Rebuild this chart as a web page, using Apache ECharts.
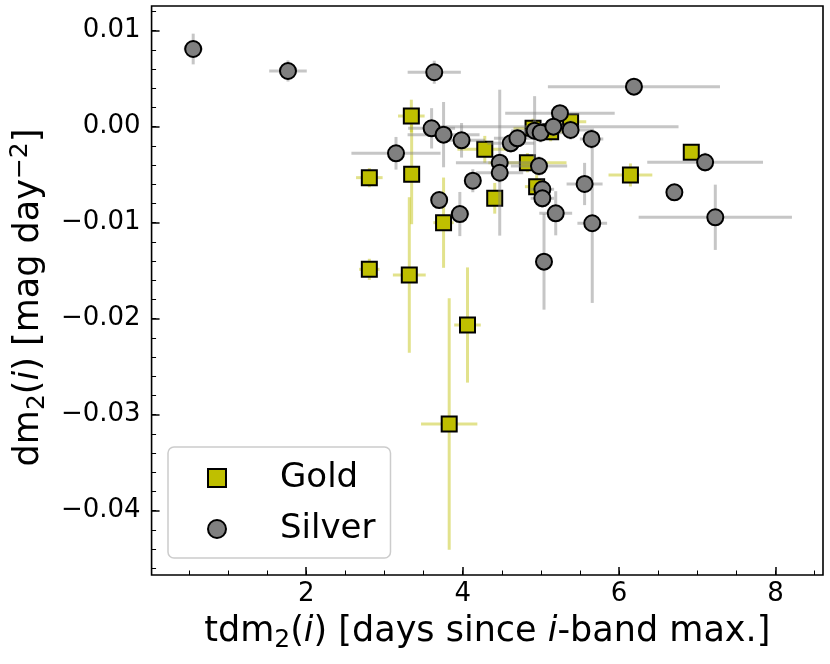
<!DOCTYPE html>
<html><head><meta charset="utf-8">
<script src="https://cdn.jsdelivr.net/npm/echarts@6/dist/echarts.min.js"></script>
<style>html,body{margin:0;padding:0;background:#fff}#c{width:830px;height:664px}</style>
</head><body><div id="c"></div>
<script>
// ---- data ----
const goldX    = [2.807, 2.807, 3.344, 3.348, 3.318, 3.756, 4.062, 3.828, 4.283, 4.410, 4.828, 4.900, 4.946, 5.125, 5.380, 6.145, 6.923];
const goldY    = [-0.00531, -0.01486, 0.00111, -0.00496, -0.01545, -0.0100, -0.02066, -0.03097, -0.00236, -0.00746, -0.00375, -0.00017, -0.00625, -0.00052, 0.00052, -0.00503, -0.00267];
const goldXErr = [0.17, 0.13, 0.17, 0.08, 0.21, 0.13, 0.17, 0.36, 0.35, 0.10, 0.50, 0.25, 0.15, 0.20, 0.20, 0.28, 0.10];
const goldYErr = [0.0010, 0.0011, 0.0017, 0.0052, 0.0081, 0.0047, 0.0060, 0.0131, 0.0014, 0.0016, 0.0010, 0.0010, 0.0012, 0.0010, 0.0008, 0.0012, 0.0008];

const silverX    = [0.555, 1.767, 3.637, 6.190, 5.244, 3.148, 3.603, 3.756, 3.986, 4.130, 3.700, 3.964, 4.474, 4.474, 4.615, 4.700, 4.920, 4.997, 5.160, 5.380, 5.648, 4.976, 5.019, 5.019, 5.190, 5.559, 5.657, 5.040, 7.100, 6.707, 7.230];
const silverY    = [0.00809, 0.0058, 0.00567, 0.00417, 0.0014, -0.00277, -0.00017, -0.00083, -0.00142, -0.00563, -0.00764, -0.0091, -0.00375, -0.0048, -0.00173, -0.00121, -0.00042, -0.00063, 0.0000, -0.00034, -0.00128, -0.0041, -0.00652, -0.00746, -0.00902, -0.00597, -0.01006, -0.01406, -0.00371, -0.00684, -0.00944];
const silverXErr = [0.12, 0.24, 0.34, 1.10, 0.70, 0.57, 0.30, 0.46, 0.30, 0.10, 0.10, 0.12, 0.56, 0.30, 0.30, 0.30, 0.30, 0.30, 1.60, 0.30, 0.15, 0.36, 0.15, 0.15, 0.21, 0.23, 0.19, 0.10, 0.74, 0.10, 0.98];
const silverYErr = [0.0016, 0.0011, 0.0012, 0.0005, 0.0008, 0.0017, 0.0021, 0.0034, 0.0018, 0.0012, 0.0008, 0.0023, 0.0076, 0.0010, 0.0010, 0.0010, 0.0036, 0.0010, 0.0010, 0.0010, 0.0010, 0.0010, 0.0010, 0.0010, 0.0023, 0.0022, 0.0083, 0.0050, 0.0010, 0.0008, 0.0034];

const xMajorTicks = [2, 4, 6, 8];
const xMinorTicks = [0.5, 1, 1.5, 2, 2.5, 3, 3.5, 4, 4.5, 5, 5.5, 6, 6.5, 7, 7.5, 8, 8.5];
const yMajorTicks = [-0.04, -0.03, -0.02, -0.01, 0, 0.01];
const yMinorTicks = [-0.046, -0.044, -0.042, -0.04, -0.038, -0.036, -0.034, -0.032, -0.03, -0.028, -0.026, -0.024, -0.022, -0.02, -0.018, -0.016, -0.014, -0.012, -0.01, -0.008, -0.006, -0.004, -0.002, 0, 0.002, 0.004, 0.006, 0.008, 0.01, 0.012];

const X_MIN = 0.023, X_MAX = 8.607;
const Y_MIN = -0.0467, Y_MAX = 0.01257;

// ---- build ----
const FONT = 'DejaVu Sans';
const zip = (a, b, c, d) => a.map((v, i) => [v, b[i], c[i], d[i]]);
const goldData = zip(goldX, goldY, goldXErr, goldYErr);
const silverData = zip(silverX, silverY, silverXErr, silverYErr);

function errRender(color) {
  return function (params, api) {
    const x = api.value(0), y = api.value(1), ex = api.value(2), ey = api.value(3);
    const a = api.coord([x - ex, y]), b = api.coord([x + ex, y]);
    const c = api.coord([x, y - ey]), d = api.coord([x, y + ey]);
    const style = { stroke: color, lineWidth: 3, fill: null };
    return { type: 'group', children: [
      { type: 'line', shape: { x1: a[0], y1: a[1], x2: b[0], y2: b[1] }, style: style },
      { type: 'line', shape: { x1: c[0], y1: c[1], x2: d[0], y2: d[1] }, style: style }
    ]};
  };
}

const richTitle = {
  n: { fontSize: 35, lineHeight: 42, fontFamily: FONT, color: '#000' },
  i: { fontSize: 35, lineHeight: 42, fontFamily: FONT, fontStyle: 'italic', color: '#000' },
  s: { fontSize: 25, lineHeight: 25, fontFamily: FONT, verticalAlign: 'bottom', color: '#000' },
  p: { fontSize: 25, lineHeight: 25, fontFamily: FONT, verticalAlign: 'top', color: '#000' }
};

const fmtY = v => {
  const s = Math.abs(v).toFixed(2);
  return (v < -1e-9 ? '\u2212' : '') + s;
};

const noLine = { show: false, onZero: false };

const chart = echarts.init(document.getElementById('c'), null, { renderer: 'canvas' });
chart.setOption({
  animation: false,
  backgroundColor: '#fff',
  grid: { left: 150, right: 7, top: 6, bottom: 89, show: true, borderColor: '#000', borderWidth: 1.6, backgroundColor: 'transparent' },
  xAxis: [
    { type: 'value', min: X_MIN, max: X_MAX, position: 'bottom',
      axisLine: noLine, splitLine: { show: false },
      axisTick: { show: true, inside: true, length: 8, lineStyle: { color: '#000', width: 1.5 }, customValues: xMajorTicks },
      axisLabel: { show: true, customValues: xMajorTicks, fontSize: 26, fontFamily: FONT, color: '#000', margin: 6, formatter: v => String(Math.round(v)) },
      name: '{n|tdm}{s|2}{n|(}{i|i}{n|) [days since }{i|i}{n|-band max.]}',
      nameLocation: 'middle', nameGap: 36,
      nameTextStyle: { fontSize: 35, fontFamily: FONT, color: '#000', rich: richTitle }
    },
    { type: 'value', min: X_MIN, max: X_MAX, position: 'bottom',
      axisLine: noLine, splitLine: { show: false },
      axisTick: { show: true, inside: true, length: 4.5, lineStyle: { color: '#000', width: 1 }, customValues: xMinorTicks },
      axisLabel: { show: false }
    }
  ],
  yAxis: [
    { type: 'value', min: Y_MIN, max: Y_MAX, position: 'left',
      axisLine: noLine, splitLine: { show: false },
      axisTick: { show: true, inside: true, length: 8, lineStyle: { color: '#000', width: 1.5 }, customValues: yMajorTicks },
      axisLabel: { show: true, customValues: yMajorTicks, fontSize: 26, fontFamily: FONT, color: '#000', margin: 11, formatter: fmtY },
      name: '{n|dm}{s|2}{n|(}{i|i}{n|) [mag day}{p|\u22122}{n|]}',
      nameLocation: 'middle', nameGap: 100, nameRotate: 90,
      nameTextStyle: { fontSize: 35, fontFamily: FONT, color: '#000', rich: richTitle, padding: [0, 14, 0, 0] }
    },
    { type: 'value', min: Y_MIN, max: Y_MAX, position: 'left',
      axisLine: noLine, splitLine: { show: false },
      axisTick: { show: true, inside: true, length: 4.5, lineStyle: { color: '#000', width: 1 }, customValues: yMinorTicks },
      axisLabel: { show: false }
    }
  ],
  legend: {
    left: 168, top: 447, orient: 'vertical',
    data: ['Gold', 'Silver'],
    itemWidth: 18, itemHeight: 18, itemGap: 11,
    padding: [11, 15, 9, 39],
    backgroundColor: 'rgba(255,255,255,0.85)', borderColor: '#cccccc', borderWidth: 1.5, borderRadius: 6,
    textStyle: { fontSize: 34, fontFamily: FONT, color: '#000', lineHeight: 40, padding: [0, 0, 0, 49] }
  },
  series: [
    { name: 'Gold err', type: 'custom', data: goldData, encode: { x: 0, y: 1 }, renderItem: errRender('rgba(191,191,0,0.45)'), z: 2, silent: true },
    { name: 'Gold', type: 'scatter', data: goldData.map(d => [d[0], d[1]]), symbol: 'rect', symbolSize: 15,
      itemStyle: { color: '#bfbf00', borderColor: '#000', borderWidth: 2, opacity: 1 }, z: 3 },
    { name: 'Silver err', type: 'custom', data: silverData, encode: { x: 0, y: 1 }, renderItem: errRender('rgba(128,128,128,0.45)'), z: 4, silent: true },
    { name: 'Silver', type: 'scatter', data: silverData.map(d => [d[0], d[1]]), symbol: 'circle', symbolSize: 16,
      itemStyle: { color: '#808080', borderColor: '#000', borderWidth: 2, opacity: 1 }, z: 5 }
  ]
});
</script>
</body></html>
